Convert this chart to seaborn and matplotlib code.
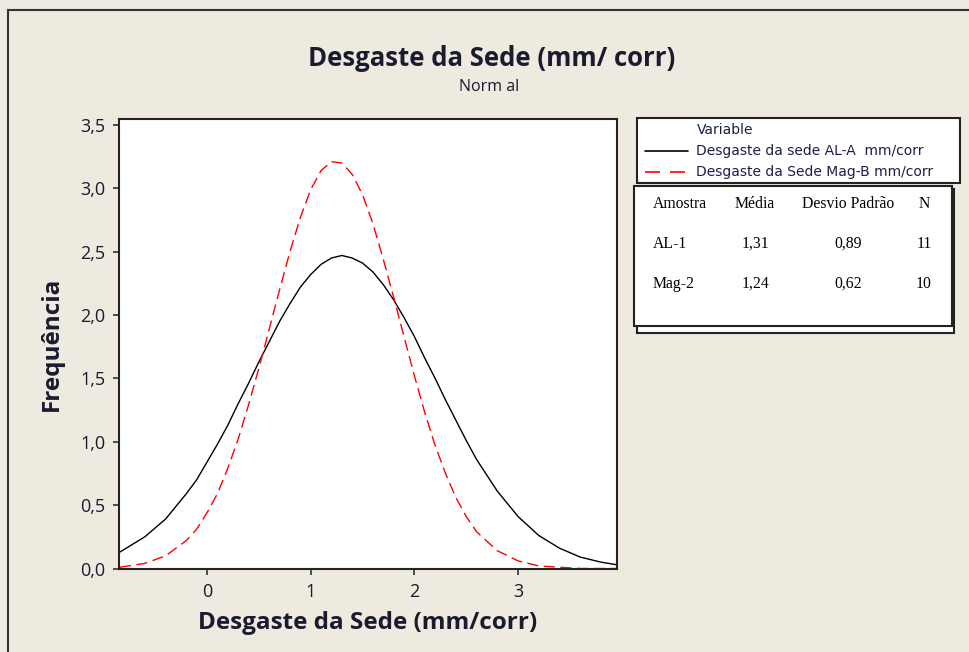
import matplotlib
matplotlib.use("Agg")
import matplotlib.pyplot as plt
from matplotlib.patches import Rectangle
from matplotlib.lines import Line2D
import seaborn as sns
import pandas as pd

# ---- data ----
x_grid = [-0.84, -0.6, -0.4, -0.2, -0.1, 0.0, 0.1, 0.2, 0.3, 0.4, 0.5, 0.6, 0.7, 0.8, 0.9,
          1.0, 1.1, 1.2, 1.3, 1.4, 1.5, 1.6, 1.7, 1.8, 1.9, 2.0, 2.1, 2.2, 2.3, 2.4, 2.5,
          2.6, 2.8, 3.0, 3.2, 3.4, 3.6, 3.8, 3.95]
al_freq = [0.13, 0.25, 0.39, 0.59, 0.70, 0.84, 0.98, 1.13, 1.30, 1.46, 1.63, 1.79, 1.95, 2.09,
           2.22, 2.32, 2.40, 2.45, 2.47, 2.45, 2.41, 2.34, 2.24, 2.12, 1.98, 1.83, 1.66, 1.50,
           1.33, 1.17, 1.01, 0.86, 0.61, 0.41, 0.26, 0.16, 0.09, 0.05, 0.03]
mag_freq = [0.01, 0.04, 0.10, 0.22, 0.31, 0.44, 0.59, 0.79, 1.02, 1.29, 1.58, 1.89, 2.20, 2.50,
            2.77, 2.99, 3.14, 3.21, 3.20, 3.11, 2.95, 2.72, 2.44, 2.14, 1.83, 1.52, 1.23, 0.97,
            0.75, 0.56, 0.41, 0.29, 0.14, 0.06, 0.02, 0.01, 0.00, 0.00, 0.00]

series_names = ["Desgaste da sede AL-A  mm/corr", "Desgaste da Sede Mag-B mm/corr"]
x_ticks = [0, 1, 2, 3]
x_tick_labels = ["0", "1", "2", "3"]
y_ticks = [0.0, 0.5, 1.0, 1.5, 2.0, 2.5, 3.0, 3.5]
y_tick_labels = ["0,0", "0,5", "1,0", "1,5", "2,0", "2,5", "3,0", "3,5"]

table_header = ["Amostra", "Média", "Desvio Padrão", "N"]
table_amostra = ["AL-1", "Mag-2"]
table_media = ["1,31", "1,24"]
table_desvio = ["0,89", "0,62"]
table_n = ["11", "10"]

# ---- styling ----
sns.set_style("white")
plt.rcParams["font.family"] = ["Open Sans", "DejaVu Sans"]

BG = "#EEEAE0"
TXT = "#1b1b30"
W, H = 970, 652

fig = plt.figure(figsize=(9.7, 6.52), dpi=100, facecolor=BG)

def fx(px):
    return px / W

def fy(py):
    return 1 - py / H

# outer frame
fig.add_artist(Rectangle((fx(8), fy(700)), fx(1000), fy(10) - fy(700),
                         transform=fig.transFigure, fill=False,
                         edgecolor="#333333", linewidth=1.5))

ax = fig.add_axes([fx(119.3), fy(568.5), fx(616.7) - fx(119.3), fy(119) - fy(568.5)])
ax.set_facecolor("white")

df_al = pd.DataFrame({"x": x_grid, "y": al_freq})
df_mag = pd.DataFrame({"x": x_grid, "y": mag_freq})
sns.lineplot(data=df_al, x="x", y="y", ax=ax, color="black", linewidth=1.0, sort=False)
sns.lineplot(data=df_mag, x="x", y="y", ax=ax, color="#ff0000", linewidth=1.0, sort=False,
             dashes=False)
ax.lines[1].set_dashes([8, 4])

ax.set_xlim(-0.846, 3.951)
ax.set_ylim(0, 3.547)
ax.set_xticks(x_ticks)
ax.set_xticklabels(x_tick_labels)
ax.set_yticks(y_ticks)
ax.set_yticklabels(y_tick_labels)
ax.tick_params(axis="both", direction="out", length=4.5, width=1.1, color="#222222",
               labelsize=13, labelcolor=TXT, pad=5.5, left=True, bottom=True)
ax.tick_params(axis="x", pad=6)
for sp in ax.spines.values():
    sp.set_color("#222222")
    sp.set_linewidth(1.5)
    sp.set_visible(True)

ax.set_xlabel("Desgaste da Sede (mm/corr)", fontsize=17.5, fontweight="bold", color=TXT,
              labelpad=7)
ax.set_ylabel("Frequência", fontsize=17.5, fontweight="bold", color=TXT, labelpad=12)

fig.text(fx(492), fy(58), "Desgaste da Sede (mm/ corr)", ha="center", va="center",
         fontsize=18.5, fontweight="bold", color=TXT)
fig.text(fx(489), fy(87), "Norm al", ha="center", va="center", fontsize=11.5, color=TXT)

# ---- legend box ----
fig.add_artist(Rectangle((fx(637), fy(183)), fx(960) - fx(637), fy(118) - fy(183),
                         transform=fig.transFigure, facecolor="white",
                         edgecolor="#222222", linewidth=1.5, zorder=3))
leg_font = dict(fontsize=10, color="#1c1f4a", family=["DejaVu Sans"], va="center", ha="left",
                zorder=4)
fig.text(fx(697), fy(130), "Variable", **leg_font)
fig.text(fx(696), fy(151), series_names[0], **leg_font)
fig.text(fx(696), fy(172), series_names[1], **leg_font)
fig.add_artist(Line2D([fx(645), fx(688)], [fy(151), fy(151)], transform=fig.transFigure,
                      color="black", linewidth=1.2, zorder=4))
fig.add_artist(Line2D([fx(645), fx(688)], [fy(172), fy(172)], transform=fig.transFigure,
                      color="#ff0000", linewidth=1.2, dashes=[9, 6], zorder=4))

# ---- stats table ----
fig.add_artist(Rectangle((fx(637), fy(333)), fx(954) - fx(637), fy(189) - fy(333),
                         transform=fig.transFigure, facecolor="white",
                         edgecolor="#222222", linewidth=1.5, zorder=3))
fig.add_artist(Rectangle((fx(634), fy(326)), fx(952) - fx(634), fy(186) - fy(326),
                         transform=fig.transFigure, facecolor="white",
                         edgecolor="#222222", linewidth=1.5, zorder=3))
tab_font = dict(fontsize=11.3, color="black", family=["Liberation Serif", "DejaVu Serif"],
                va="center", zorder=4)
col_x = [653, 755, 848, 924]
col_ha = ["left", "center", "center", "center"]
row_y = [204, 244, 284]
for j, h in enumerate(table_header):
    fig.text(fx(col_x[j]), fy(row_y[0]), h, ha=col_ha[j], **tab_font)
for i in range(len(table_amostra)):
    vals = [table_amostra[i], table_media[i], table_desvio[i], table_n[i]]
    for j, v in enumerate(vals):
        fig.text(fx(col_x[j]), fy(row_y[i + 1]), v, ha=col_ha[j], **tab_font)

fig.savefig("out.png", dpi=100, facecolor=BG)
